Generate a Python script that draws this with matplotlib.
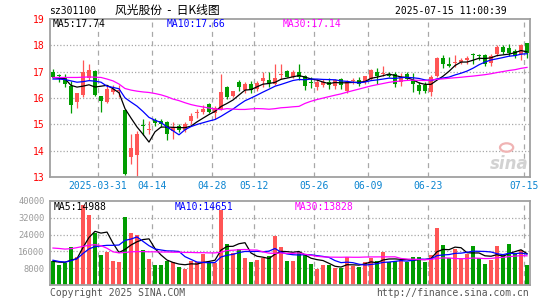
import numpy as np
import pandas as pd
import matplotlib
matplotlib.use("Agg")
import matplotlib.pyplot as plt
from matplotlib.patches import Ellipse

plt.rcParams['font.family'] = ['DejaVu Sans Mono', 'Noto Sans CJK SC']

# trading days shown (2025)
dates = ["03-19", "03-20", "03-21", "03-24", "03-25", "03-26", "03-27", "03-28", "03-31",
         "04-01", "04-02", "04-03", "04-07", "04-08", "04-09", "04-10", "04-11", "04-14",
         "04-15", "04-16", "04-17", "04-18", "04-21", "04-22", "04-23", "04-24", "04-25",
         "04-28", "04-29", "04-30", "05-06", "05-07", "05-08", "05-09", "05-12", "05-13",
         "05-14", "05-15", "05-16", "05-19", "05-20", "05-21", "05-22", "05-23", "05-26",
         "05-27", "05-28", "05-29", "05-30", "06-03", "06-04", "06-05", "06-06", "06-09",
         "06-10", "06-11", "06-12", "06-13", "06-16", "06-17", "06-18", "06-19", "06-20",
         "06-23", "06-24", "06-25", "06-26", "06-27", "06-30", "07-01", "07-02", "07-03",
         "07-04", "07-07", "07-08", "07-09", "07-10", "07-11", "07-14", "07-15"]

opens = [17.0, 16.85, 16.78, 16.45, 15.84, 16.1, 16.75, 17.02, 16.06, 15.85,
         16.22, 16.25, 15.55, 13.77, 13.85, 14.98, 14.78, 15.17, 15.12, 15.08,
         14.75, 14.92, 14.79, 15.13, 15.42, 15.45, 15.76, 15.42, 15.58, 16.4,
         16.06, 16.6, 16.32, 16.55, 16.35, 16.65, 16.68, 16.55, 16.88, 17.03,
         16.8, 17.0, 16.82, 16.6, 16.43, 16.5, 16.6, 16.45, 16.72, 16.25,
         16.65, 16.7, 16.62, 16.72, 17.0, 16.9, 16.92, 16.93, 16.6, 16.9,
         16.68, 16.5, 16.48, 16.21, 16.84, 17.5, 17.28, 17.33, 17.35, 17.46,
         17.66, 17.6, 17.63, 17.34, 17.66, 17.95, 17.88, 17.78, 17.66, 18.08]
highs = [17.12, 16.92, 16.93, 16.65, 16.2, 17.45, 17.28, 17.05, 16.08, 16.48,
         16.48, 16.5, 15.6, 14.65, 14.75, 15.2, 15.12, 15.25, 15.22, 15.12,
         15.08, 15.0, 15.1, 15.42, 15.6, 15.75, 15.82, 15.7, 16.9, 16.45,
         16.28, 16.68, 16.6, 16.65, 16.65, 16.98, 17.0, 17.3, 17.28, 17.05,
         17.05, 17.3, 16.88, 16.78, 16.72, 16.72, 16.75, 16.72, 16.75, 16.68,
         16.75, 16.78, 16.85, 17.1, 17.15, 17.22, 17.0, 17.0, 16.95, 17.0,
         16.95, 16.62, 16.6, 16.88, 17.56, 17.62, 17.56, 17.65, 17.52, 17.6,
         17.7, 17.68, 17.68, 17.66, 18.0, 18.02, 18.05, 17.85, 18.05, 18.1]
lows = [16.75, 16.62, 16.4, 15.42, 15.62, 16.05, 16.7, 16.08, 15.45, 15.8,
        16.15, 16.05, 13.06, 13.5, 13.0, 14.6, 14.65, 14.95, 14.9, 14.4,
        14.45, 14.7, 14.7, 15.0, 15.25, 15.38, 15.42, 15.2, 15.55, 15.95,
        16.02, 16.25, 16.2, 16.2, 16.25, 16.4, 16.4, 16.5, 16.72, 16.78,
        16.75, 16.7, 16.32, 16.38, 16.3, 16.4, 16.35, 16.35, 16.35, 16.2,
        16.55, 16.45, 16.55, 16.68, 16.55, 16.85, 16.8, 16.4, 16.45, 16.68,
        16.22, 16.15, 16.2, 16.08, 16.8, 17.15, 17.18, 17.18, 17.28, 17.3,
        17.28, 17.45, 17.22, 17.2, 17.6, 17.68, 17.6, 17.52, 17.45, 17.5]
closes = [16.8, 16.82, 16.55, 15.72, 16.18, 16.98, 17.08, 16.12, 15.88, 16.35,
          16.33, 16.32, 13.1, 14.1, 14.65, 14.95, 14.83, 15.05, 15.0, 14.65,
          14.9, 14.79, 15.02, 15.3, 15.46, 15.6, 15.48, 15.62, 16.22, 16.05,
          16.25, 16.43, 16.55, 16.32, 16.57, 16.76, 16.56, 16.76, 16.9, 16.8,
          17.0, 16.8, 16.46, 16.56, 16.59, 16.62, 16.5, 16.68, 16.48, 16.62,
          16.68, 16.53, 16.82, 17.08, 16.85, 16.95, 16.85, 16.55, 16.8, 16.72,
          16.53, 16.27, 16.27, 16.8, 17.52, 17.28, 17.2, 17.36, 17.46, 17.53,
          17.62, 17.58, 17.3, 17.6, 17.95, 17.76, 17.72, 17.58, 18.0, 17.7]
volumes = [11500, 9400, 10300, 18300, 13400, 37900, 33200, 25000, 14100, 15800,
           11500, 10900, 32400, 24600, 23600, 16700, 12600, 9300, 9300, 11500,
           11000, 8700, 7700, 11500, 10900, 15000, 11000, 10600, 35600, 19600,
           15300, 17200, 13000, 11100, 11900, 13000, 14000, 23200, 18000, 11200,
           11500, 15900, 15000, 10200, 7800, 9300, 9300, 8000, 8300, 13400,
           9000, 8700, 11000, 13000, 11200, 15700, 11000, 11200, 12000, 10800,
           13400, 13400, 10900, 14400, 27000, 19000, 12800, 17000, 13000, 15000,
           18500, 12800, 10200, 12000, 18800, 14400, 19500, 14700, 16500, 9600]

ma5_head = [16.78, 16.75, 16.73, 16.48]
ma10_head = [16.72, 16.72, 16.7, 16.65, 16.6, 16.62, 16.66, 16.64, 16.6]
ma30_head = [16.78, 16.78, 16.78, 16.78, 16.78, 16.79, 16.8, 16.79, 16.78, 16.72,
             16.65, 16.53, 16.36, 16.3, 16.26, 16.23, 16.21, 16.17, 16.12, 16.05,
             15.96, 15.9, 15.82, 15.75, 15.7, 15.66, 15.62, 15.58, 15.56]
vma5_head = [11300, 10900, 10800, 11800]
vma10_head = [11800, 11200, 10900, 11600, 12500, 15000, 17200, 18300, 18600]
vma30_head = [17600, 17400, 17100, 17300, 17800, 18400, 18900, 19200, 18700, 17500,
              15800, 15300, 15500, 15800, 15900, 15900, 15800, 15800, 15700, 15700,
              15600, 15600, 15500, 15500, 15400, 15400, 15300, 15300, 15600]

tick_dates = ["03-31", "04-14", "04-28", "05-12", "05-26", "06-09", "06-23", "07-15"]
tick_labels = ["2025-03-31", "04-14", "04-28", "05-12", "05-26", "06-09", "06-23", "07-15"]

RED = "#ff5555"
GREEN = "#009c00"
GRID = "#a8a8a8"
FRAME = "#a0a0a0"


def with_head(values, n, head):
    out = pd.Series(values, dtype=float).rolling(n).mean().to_numpy()
    out[:len(head)] = head
    return out


x = np.arange(len(dates))
o = np.array(opens)
c = np.array(closes)
up = c >= o
colors = np.where(up, RED, GREEN)

W, H = 545, 300
fig = plt.figure(figsize=(W / 100, H / 100), dpi=100)


def fx(px):
    return px / W


def fy(py):
    return 1 - py / H


ax = fig.add_axes([fx(50), fy(177), fx(480), (177 - 19) / H])
axv = fig.add_axes([fx(50), fy(285), fx(480), (285 - 201) / H])

tick_pos = [dates.index(d) - 0.5 for d in tick_dates]

for a in (ax, axv):
    a.set_xlim(-0.5, len(dates) - 0.5)
    for s in a.spines.values():
        s.set_color(FRAME)
        s.set_linewidth(1.3)
    for p in tick_pos:
        a.axvline(p, color=GRID, lw=0.9, ls=(0, (4, 3.5)), zorder=0)
    a.tick_params(length=0)

# price panel
ax.set_ylim(13, 19)
for yv in range(14, 19):
    ax.axhline(yv, color=GRID, lw=0.9, ls=(0, (1, 1.6)), zorder=0)
ax.vlines(x, lows, highs, colors=colors, lw=0.9, zorder=2)
body = np.maximum(np.abs(c - o), 0.035)
ax.bar(x, body, bottom=np.minimum(o, c), width=0.78, color=colors, zorder=3)
ax.plot(x, with_head(closes, 5, ma5_head), color="black", lw=0.9, zorder=4)
ax.plot(x, with_head(closes, 10, ma10_head), color="#0000ff", lw=0.9, zorder=4)
ax.plot(x, with_head(closes, 30, ma30_head), color="#ff00ff", lw=0.9, zorder=4)
ax.set_yticks(range(13, 20))
ax.set_yticklabels([str(v) for v in range(13, 20)], color="#ff0000", fontsize=7)
ax.tick_params(axis="y", pad=4)
ax.set_xticks(tick_pos)
ax.set_xticklabels(tick_labels, color="#0a84d0", fontsize=7)
ax.tick_params(axis="x", pad=3)

# sina watermark
ax.add_patch(Ellipse((75.6, 14.12), 2.2, 0.32, facecolor="none", edgecolor="#f0b4b4",
                     lw=1.6, zorder=1))
ax.text(76.0, 13.48, "sina", fontsize=12, fontweight="bold", fontstyle="italic",
        family="DejaVu Sans", color="#d2d2d2", ha="center", va="center", zorder=1)

# volume panel
axv.set_ylim(0, 40000)
for yv in range(8000, 40000, 8000):
    axv.axhline(yv, color=GRID, lw=0.9, ls=(0, (1, 1.6)), zorder=0)
axv.bar(x, volumes, width=0.8, color=colors, zorder=2)
axv.plot(x, with_head(volumes, 5, vma5_head), color="black", lw=0.9, zorder=4)
axv.plot(x, with_head(volumes, 10, vma10_head), color="#0000ff", lw=0.9, zorder=4)
axv.plot(x, with_head(volumes, 30, vma30_head), color="#ff00ff", lw=0.9, zorder=4)
axv.set_yticks(range(8000, 40001, 8000))
axv.set_yticklabels([str(v) for v in range(8000, 40001, 8000)], color="#999999", fontsize=6.3)
axv.tick_params(axis="y", pad=4)
axv.set_xticks([])

# header and legends
fig.text(fx(49), fy(11), "sz301100", fontsize=7, va="center", ha="left")
fig.text(fx(115), fy(10), "风光股份  -  日K线图", fontsize=8.5, va="center", ha="left",
         family=["Noto Sans CJK SC", "DejaVu Sans"])
fig.text(fx(507), fy(11), "2025-07-15 11:00:39", fontsize=7, va="center", ha="right")

fig.text(fx(53), fy(24), "MA5:17.74", fontsize=7, va="center", color="black")
fig.text(fx(167), fy(24), "MA10:17.66", fontsize=7, va="center", color="#0000ff")
fig.text(fx(283), fy(24), "MA30:17.14", fontsize=7, va="center", color="#ff00ff")

fig.text(fx(54), fy(207), "MA5:14988", fontsize=7, va="center", color="black")
fig.text(fx(175), fy(207), "MA10:14651", fontsize=7, va="center", color="#0000ff")
fig.text(fx(295), fy(207), "MA30:13828", fontsize=7, va="center", color="#ff00ff")

fig.text(fx(50), fy(293), "Copyright 2025 SINA.COM", fontsize=7, va="center", color="#555555")
fig.text(fx(529), fy(293), "http://finance.sina.com.cn", fontsize=7, va="center",
         ha="right", color="#555555")

fig.savefig("out.png", dpi=100)
